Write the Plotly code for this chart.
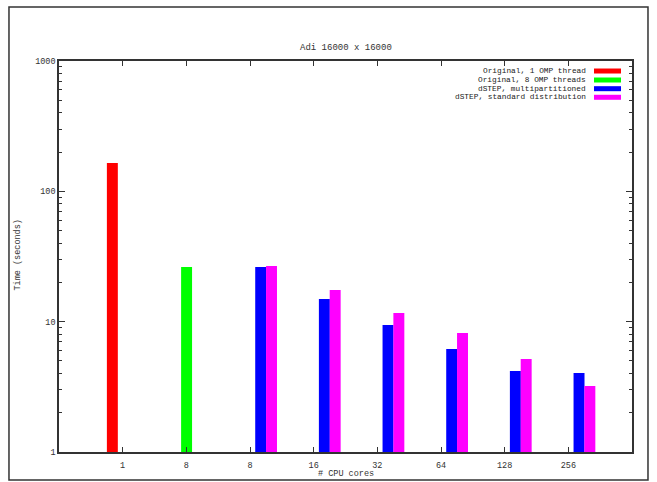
import plotly.graph_objects as go

# CPU core counts shown on the x axis (one slot per configuration)
cores = ["1", "8", "8", "16", "32", "64", "128", "256"]

# Run times in seconds for each configuration
orig_1thread = [165, None, None, None, None, None, None, None]
orig_8threads = [None, 26.3, None, None, None, None, None, None]
dstep_multi = [None, None, 26.3, 14.9, 9.43, 6.17, 4.18, 4.04]
dstep_std = [None, None, 26.7, 17.5, 11.65, 8.19, 5.17, 3.21]

series_names = [
    "Original, 1 OMP thread",
    "Original, 8 OMP threads",
    "dSTEP, multipartitioned",
    "dSTEP, standard distribution",
]
series_values = [orig_1thread, orig_8threads, dstep_multi, dstep_std]
colors = ["#ff0000", "#00ff00", "#0000ff", "#ff00ff"]
offsets = [-0.248, -0.082, 0.082, 0.252]
bar_w = 0.172

xpos = list(range(1, len(cores) + 1))
FONT = "Liberation Mono"
TXT = "#333333"

fig = go.Figure()
for name, vals, col, off in zip(series_names, series_values, colors, offsets):
    fig.add_trace(go.Bar(
        x=xpos, y=vals, name=name, width=bar_w, offset=off,
        marker=dict(color=col, line=dict(width=0)),
        showlegend=False,
    ))

minor_vals = [m * 10 ** e for e in range(3) for m in range(2, 10)]

fig.update_layout(
    width=657, height=482,
    margin=dict(l=59, r=25, t=61, b=30),
    paper_bgcolor="white", plot_bgcolor="white",
    font=dict(family=FONT, size=8.5, color=TXT),
    barmode="overlay",
    xaxis=dict(
        range=[0, len(cores) + 1], tickmode="array", tickvals=xpos, ticktext=cores,
        ticks="inside", ticklen=5, tickwidth=1, tickcolor="#333",
        showline=True, linecolor="#333", linewidth=1.5, mirror="ticks",
        showgrid=False, zeroline=False, ticklabelstandoff=4,
    ),
    yaxis=dict(
        type="log", range=[0, 3], tickmode="array",
        tickvals=[1, 10, 100, 1000], ticktext=["1", "10", "100", "1000"],
        ticks="inside", ticklen=6, tickwidth=1, tickcolor="#333",
        minor=dict(tickmode="array", tickvals=minor_vals, ticks="inside",
                   ticklen=3, tickwidth=1, tickcolor="#333", showgrid=False),
        showline=True, linecolor="#333", linewidth=1.5, mirror="ticks",
        showgrid=False, zeroline=False,
    ),
)

annotations = [
    dict(text="Adi 16000 x 16000", x=0.5, y=1.033, xref="paper", yref="paper",
         showarrow=False, xanchor="center", yanchor="middle",
         font=dict(family=FONT, size=9, color=TXT)),
    dict(text="# CPU cores", x=0.5, y=-0.0563, xref="paper", yref="paper",
         showarrow=False, xanchor="center", yanchor="middle"),
    dict(text="Time (seconds)", x=-0.0716, y=0.505, xref="paper", yref="paper",
         showarrow=False, xanchor="center", yanchor="middle", textangle=-90),
]

shapes = [
    # outer frame around the whole figure
    dict(type="rect", xref="paper", yref="paper", x0=-0.0873, x1=1.0279,
         y0=-0.0716, y1=1.138, line=dict(color="#333", width=1.5)),
]

# key: right-aligned labels with colour swatches to their right
row_y = [0.9744, 0.9514, 0.9292, 0.9072]
for name, col, ry in zip(series_names, colors, row_y):
    annotations.append(dict(text=name, x=0.9215, y=ry, xref="paper", yref="paper",
                            showarrow=False, xanchor="right", yanchor="middle",
                            borderpad=0,
                            font=dict(family=FONT, size=7.8, color="#222")))
    shapes.append(dict(type="rect", xref="paper", yref="paper",
                       x0=0.9337, x1=0.9808, y0=ry - 0.0064, y1=ry + 0.0064,
                       fillcolor=col, line=dict(width=0)))

fig.update_layout(annotations=annotations, shapes=shapes)
fig.write_html("out.html")
